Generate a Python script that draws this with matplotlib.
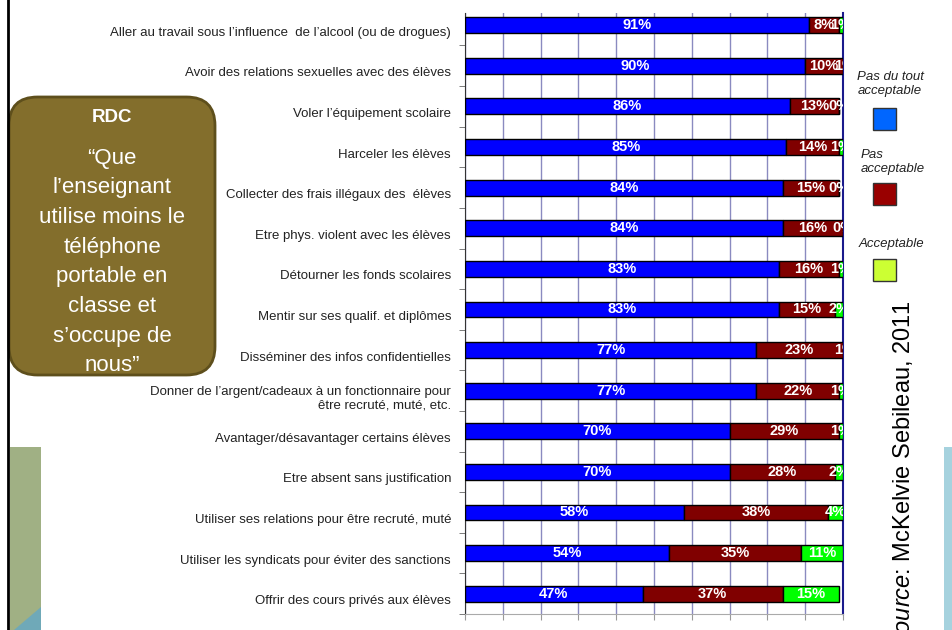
import numpy as np
import matplotlib
matplotlib.use("Agg")
import matplotlib.pyplot as plt
from matplotlib.patches import FancyBboxPatch, Rectangle, Polygon
from matplotlib import transforms

plt.rcParams['font.family'] = ['Liberation Sans', 'DejaVu Sans']
plt.rcParams['mathtext.fontset'] = 'custom'
plt.rcParams['mathtext.it'] = 'Liberation Sans:italic'
plt.rcParams['mathtext.rm'] = 'Liberation Sans'

# data (top to bottom)
categories = [
    "Aller au travail sous l\u2019influence  de l\u2019alcool (ou de drogues)",
    "Avoir des relations sexuelles avec des \u00e9l\u00e8ves",
    "Voler l\u2019\u00e9quipement scolaire",
    "Harceler les \u00e9l\u00e8ves",
    "Collecter des frais ill\u00e9gaux des  \u00e9l\u00e8ves",
    "Etre phys. violent avec les \u00e9l\u00e8ves",
    "D\u00e9tourner les fonds scolaires",
    "Mentir sur ses qualif. et dipl\u00f4mes",
    "Diss\u00e9miner des infos confidentielles",
    "Donner de l\u2019argent/cadeaux \u00e0 un fonctionnaire pour\n\u00eatre recrut\u00e9, mut\u00e9, etc.",
    "Avantager/d\u00e9savantager certains \u00e9l\u00e8ves",
    "Etre absent sans justification",
    "Utiliser ses relations pour \u00eatre recrut\u00e9, mut\u00e9",
    "Utiliser les syndicats pour \u00e9viter des sanctions",
    "Offrir des cours priv\u00e9s aux \u00e9l\u00e8ves",
]
pas_du_tout = [91, 90, 86, 85, 84, 84, 83, 83, 77, 77, 70, 70, 58, 54, 47]
pas_acceptable = [8, 10, 13, 14, 15, 16, 16, 15, 23, 22, 29, 28, 38, 35, 37]
acceptable = [1, 1, 0, 1, 0, 0, 1, 2, 1, 1, 1, 2, 4, 11, 15]

series = [pas_du_tout, pas_acceptable, acceptable]
colors = ['#0000ff', '#800000', '#00ff00']

fig = plt.figure(figsize=(9.52, 6.3), dpi=100)
fig.patch.set_facecolor('white')

ax = fig.add_axes([465/952, 16/630, 378/952, 601/630])
y = np.arange(len(categories))
left = np.zeros(len(categories))
for vals, col in zip(series, colors):
    vals = np.array(vals, dtype=float)
    ax.barh(y, vals, left=left, height=0.39, color=col, edgecolor='black',
            linewidth=1, zorder=3)
    for yi, l, v in zip(y, left, vals):
        ax.text(l + v/2, yi, "%d%%" % v, ha='center', va='center', color='white',
                fontsize=10.5, fontweight='bold', zorder=4, clip_on=True)
    left = left + vals

ax.set_xlim(0, 100)
ax.set_ylim(len(categories) - 0.5, -0.3)
ax.set_xticks(np.arange(0, 101, 10))
ax.set_xticklabels([])
ax.grid(axis='x', color='#8a8ac0', linewidth=1, zorder=0)
ax.tick_params(axis='x', direction='out', length=4, color='#999999')

# category labels
ax.set_yticks(y)
ax.set_yticklabels(categories, fontsize=9.5, color='#222222', ha='right')
ax.tick_params(axis='y', length=0, pad=10)
offset = transforms.ScaledTranslation(0, -6/100, fig.dpi_scale_trans)
for lab in ax.get_yticklabels():
    lab.set_transform(lab.get_transform() + offset)
ax.set_yticks(y + 0.5, minor=True)
ax.tick_params(axis='y', which='minor', direction='out', length=4, color='#666666')

ax.spines['top'].set_visible(False)
ax.spines['right'].set_color('#1a1a8c')
ax.spines['right'].set_linewidth(1.5)
ax.spines['left'].set_color('#333333')
ax.spines['bottom'].set_color('#aaaaaa')

# legend on the right
def px(x, yy):
    return x/952, 1 - yy/630

fig.text(*px(890, 84), "Pas du tout\nacceptable", fontsize=9.5, style='italic',
         ha='center', va='center', color='#222222', linespacing=1.2)
fig.text(*px(861, 162), "Pas\nacceptable", fontsize=9.5, style='italic',
         ha='left', va='center', color='#222222', linespacing=1.2)
fig.text(*px(859, 244), "Acceptable", fontsize=9.5, style='italic',
         ha='left', va='center', color='#222222')
for yy, col in [(108, '#0066ff'), (183, '#990000'), (259, '#ccff33')]:
    fig.patches.append(Rectangle(px(873, yy + 22), 23/952, 22/630, transform=fig.transFigure,
                                 facecolor=col, edgecolor='#333333', linewidth=1))

# source (cut at the bottom edge, as in the original)
fig.text(*px(903, 300), r"$\mathit{Source}$: McKelvie Sebileau, 2011", rotation=90,
         ha='center', va='top', fontsize=17, color='black')

# left decorations
fig.add_artist(plt.Line2D([8/952, 8/952], [0, 1], color='black', linewidth=2,
                          transform=fig.transFigure))
fig.patches.append(Rectangle(px(10, 630), 31/952, 183/630, transform=fig.transFigure,
                             facecolor='#a0b084', edgecolor='none'))
fig.patches.append(Polygon([px(14, 630), px(41, 607), px(41, 630)], closed=True,
                           transform=fig.transFigure, facecolor='#6fa9b8', edgecolor='none'))
fig.patches.append(Rectangle(px(944, 630), 8/952, 183/630, transform=fig.transFigure,
                             facecolor='#a6d2de', edgecolor='none'))

box = FancyBboxPatch(px(9, 375), 206/952, 278/630,
                     boxstyle="round,pad=0,rounding_size=0.03",
                     transform=fig.transFigure, facecolor='#836e2c',
                     edgecolor='#5e4f1c', linewidth=2, mutation_aspect=952/630)
fig.patches.append(box)
fig.text(*px(112, 118), "RDC", fontsize=13.5, fontweight='bold', color='white',
         ha='center', va='center')
fig.text(*px(112, 262), "\u201cQue\nl\u2019enseignant\nutilise moins le\nt\u00e9l\u00e9phone\n"
         "portable en\nclasse et\ns\u2019occupe de\nnous\u201d",
         fontsize=16, color='white', ha='center', va='center', linespacing=1.54)

fig.savefig("out.png", dpi=100)
